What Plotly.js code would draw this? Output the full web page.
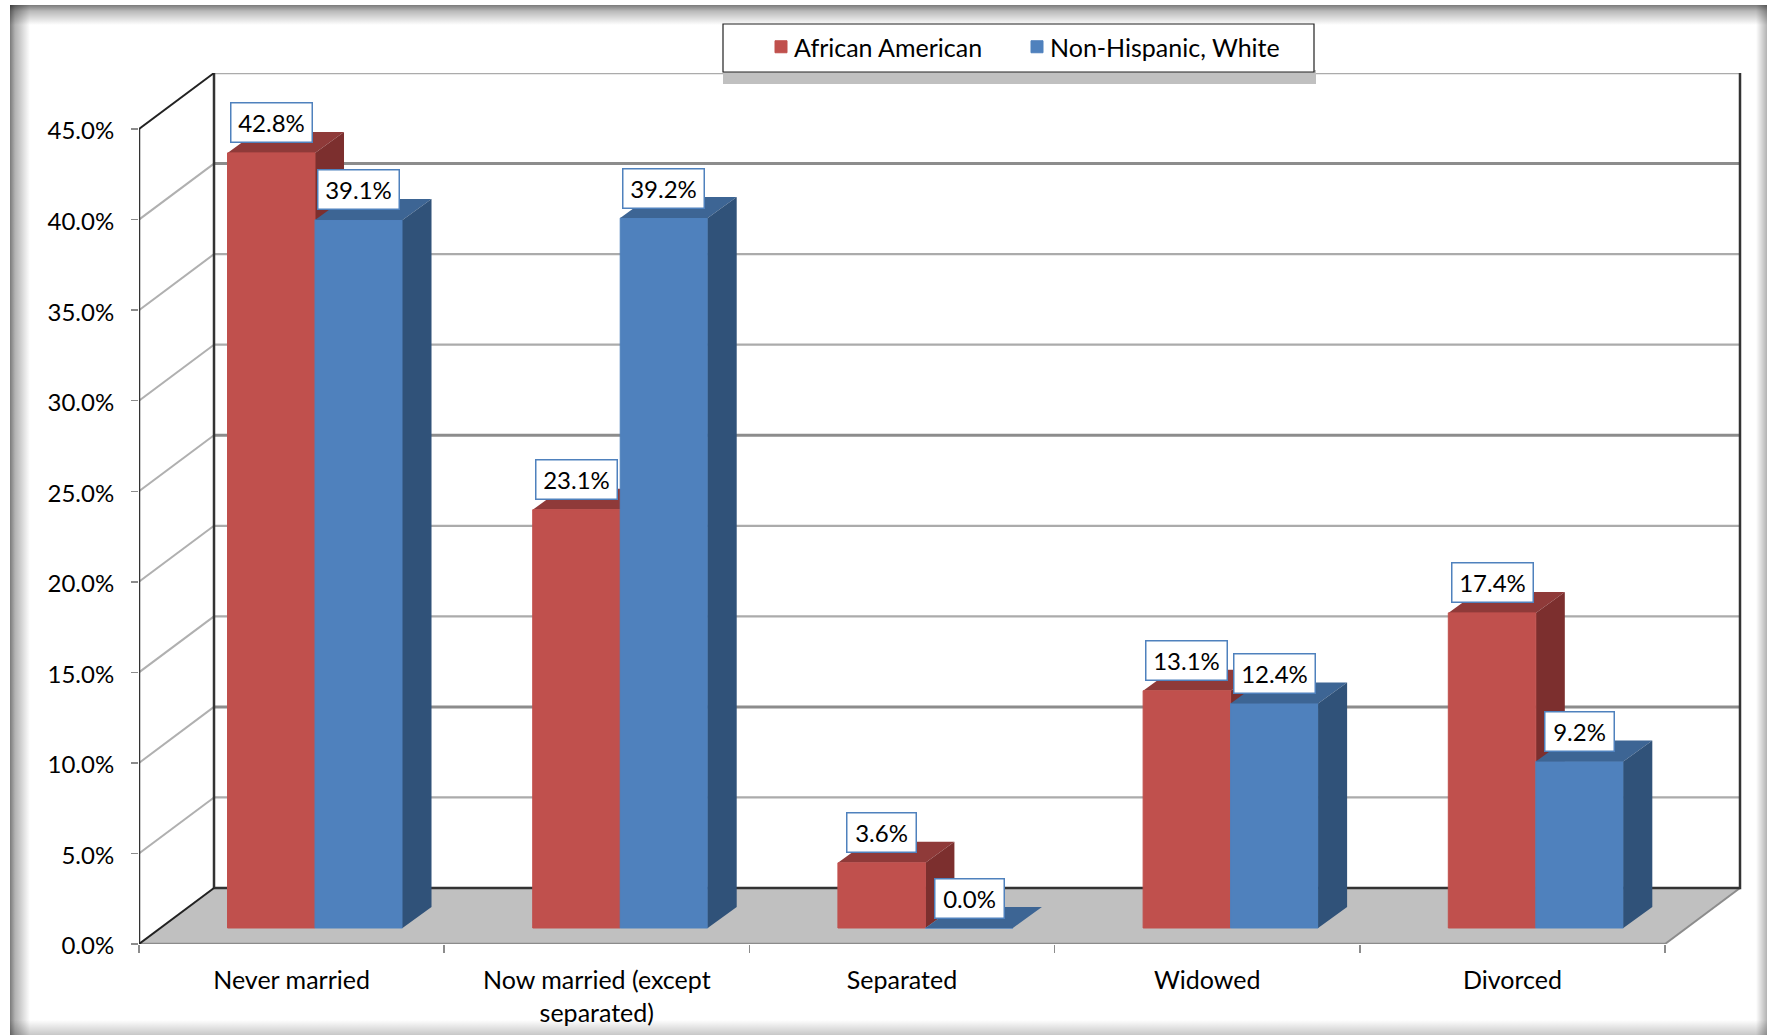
<!DOCTYPE html>
<html><head><meta charset="utf-8">
<script src="https://cdn.plot.ly/plotly-3.0.1.min.js"></script>
<style>
html,body{margin:0;padding:0;background:#fff;overflow:hidden}
#frame{position:absolute;left:10px;top:5px;width:1757px;height:1030px;background-color:#fff;
  background-image:
    linear-gradient(to right,rgba(0,0,0,.52),rgba(0,0,0,.3) 5px,rgba(0,0,0,0) 20px),
    linear-gradient(to bottom,rgba(0,0,0,.52),rgba(0,0,0,.28) 6px,rgba(0,0,0,0) 20px),
    linear-gradient(to left,rgba(0,0,0,.3),rgba(0,0,0,0) 11px),
    linear-gradient(to top,rgba(0,0,0,.22),rgba(0,0,0,0) 15px);}
#chart{position:absolute;left:0;top:0;width:1767px;height:1035px}
g.ytick{transform:translateY(2px)}
.legendtext{transform:translateX(-7px)}
.legend .scrollbox{clip-path:none !important}
</style></head><body>
<div id="frame"></div><div id="chart"></div>
<script>
const categories = ["Never married","Now married (except<br>separated)","Separated","Widowed","Divorced"];
const africanAmerican = [42.8,23.1,3.6,13.1,17.4];
const nonHispanicWhite = [39.1,39.2,0.0,12.4,9.2];
const yTicks = [0,5,10,15,20,25,30,35,40,45];
const darkerGrid = [40,25,10];

// pseudo-3D projection constants, in axis units
const pxX = 305.2, pxY = 18.11;
const L = 139, R = 1742, T = 73, B = 944;
const xMin = -0.5, xMax = xMin + (R-L)/pxX, yMax = (B-T)/pxY;
const wallDX = 75/pxX, wallDY = 56/pxY;
const floorEnd = 4.5;
const base = 16/pxY, groupOff = 0.0767, barW = 87.5/pxX, depthDX = 29/pxX, depthDY = 21/pxY;

function poly(xs, ys, color, extra){
  return Object.assign({type:'scatter',mode:'lines',x:xs,y:ys,fill:'toself',fillcolor:color,
    line:{width:0,color:color},hoverinfo:'skip',showlegend:false,cliponaxis:false},extra||{});
}
function line(xs, ys, color, width, extra){
  return Object.assign({type:'scatter',mode:'lines',x:xs,y:ys,line:{color:color,width:width},
    hoverinfo:'skip',showlegend:false,cliponaxis:false},extra||{});
}
const lipH = 4/pxY;
const traces = [];
// floor with front lip
traces.push(poly([xMin,xMin+wallDX,floorEnd+wallDX,floorEnd],[0,wallDY,wallDY,0],'#c0c0c0'));
traces.push(poly([xMin,floorEnd,floorEnd,xMin],[0,0,-lipH,-lipH],'#c4c4c4'));
// grid lines on the left wall and back wall
yTicks.filter(v=>v>0).forEach(v=>{
  const dark = darkerGrid.includes(v);
  if(v!==45) traces.push(line([xMin,xMin+wallDX],[v,v+wallDY],'#b0b0b0',2));
  traces.push(line([xMin+wallDX,floorEnd+wallDX],[v+wallDY,v+wallDY],dark?'#8c8c8c':'#ababab',dark?3:2.2));
});
// axis frame
traces.push(line([floorEnd,floorEnd+wallDX],[0,wallDY],'#8c8c8c',2));
traces.push(line([xMin,floorEnd],[0,0],'#8c8c8c',2.5));
traces.push(line([xMin+wallDX,floorEnd+wallDX,floorEnd+wallDX],[wallDY,wallDY,45+wallDY],'#333',2.5));
traces.push(line([xMin+wallDX,xMin+wallDX],[wallDY,45+wallDY],'#333',2.5));
traces.push(line([xMin,xMin],[0,45],'#333',2.5));
traces.push(line([xMin,xMin+wallDX],[0,wallDY],'#222',2));
traces.push(line([xMin,xMin+wallDX],[45,45+wallDY],'#222',2));

function faces(values, sign){
  const top={x:[],y:[]}, side={x:[],y:[]};
  values.forEach((v,i)=>{
    const c=i+groupOff, x0=sign<0?c-barW:c, x1=sign<0?c:c+barW, yt=base+v, yb=base;
    top.x.push(x0,x1,x1+depthDX,x0+depthDX,x0,null); top.y.push(yt,yt,yt+depthDY,yt+depthDY,yt,null);
    if(v>0){side.x.push(x1,x1+depthDX,x1+depthDX,x1,x1,null); side.y.push(yb,yb+depthDY,yt+depthDY,yt,yb,null);}
  });
  return {top,side};
}
const redF = faces(africanAmerican,-1), blueF = faces(nonHispanicWhite,1);
traces.push(poly(redF.top.x,redF.top.y,'#8f3a39'));
traces.push(poly(redF.side.x,redF.side.y,'#7c2f2e'));

const ax2 = {xaxis:'x2',yaxis:'y2'};
const xs = categories.map((c,i)=>i+groupOff);
traces.push({type:'bar',name:'African American',x:xs,y:africanAmerican,base:base,xaxis:'x2',yaxis:'y2',
  marker:{color:'#c0504d',line:{color:'#c0504d',width:1}},hoverinfo:'skip'});
traces.push({type:'bar',name:'Non-Hispanic, White',x:xs,y:nonHispanicWhite,base:base,xaxis:'x2',yaxis:'y2',
  marker:{color:'#4f81bd',line:{color:'#4f81bd',width:1}},hoverinfo:'skip'});
traces.push(poly(blueF.top.x,blueF.top.y,'#3d6594',ax2));
traces.push(poly(blueF.side.x,blueF.side.y,'#305279',ax2));

const font = {family:'Lato, Carlito, sans-serif',size:24,color:'#000'};
const textFont = {family:'Lato, Carlito, sans-serif',size:25,color:'#000'};
const annotations = [];
function labels(values, sign){
  values.forEach((v,i)=>annotations.push({
    x:i+groupOff+sign*barW/2, y:base+v, xref:'x2', yref:'y2', yshift:30, showarrow:false,
    text:v.toFixed(1)+'%', font:font, bgcolor:'#fff', bordercolor:'#4f81bd', borderwidth:1.5,
    borderpad:4, height:30, width:v>=10?72:60
  }));
}
labels(africanAmerican,-1); labels(nonHispanicWhite,1);

const edges = categories.map((c,i)=>i-0.5).concat([4.5]);
function py(y){return 1-(y-T)/(B-T);}
function px(x){return (x-L)/(R-L);}
const layout = {
  width:1767,height:1035,autosize:false,
  margin:{l:L,r:1767-R,t:T,b:1035-B,pad:0},
  paper_bgcolor:'rgba(0,0,0,0)',plot_bgcolor:'rgba(0,0,0,0)',
  font:font,barmode:'group',bargap:1-2*barW,bargroupgap:0,
  xaxis:{range:[xMin,xMax],tickmode:'array',tickvals:categories.map((c,i)=>i),ticktext:categories,
    showgrid:false,zeroline:false,showline:false,ticks:'',tickfont:textFont,tickangle:0,ticklabelstandoff:19,
    minor:{ticks:'outside',ticklen:8,tickwidth:1.5,tickcolor:'#8c8c8c',tickmode:'array',tickvals:edges,showgrid:false}},
  yaxis:{range:[0,yMax],tickmode:'array',tickvals:yTicks,ticktext:yTicks.map(v=>v.toFixed(1)+'%'),
    showgrid:false,zeroline:false,showline:false,ticks:'outside',ticklen:7,tickwidth:1.5,tickcolor:'#8c8c8c',
    tickfont:font,ticklabelstandoff:12},
  xaxis2:{range:[xMin,xMax],overlaying:'x',visible:false,anchor:'y2'},
  yaxis2:{range:[0,yMax],overlaying:'y',visible:false,anchor:'x2'},
  legend:{orientation:'h',x:761/1767,xanchor:'left',xref:'container',y:1-24/1035,yref:'container',yanchor:'top',
    bgcolor:'rgba(0,0,0,0)',borderwidth:0,font:textFont,entrywidth:211,traceorder:'normal'},
  shapes:[
    {type:'rect',xref:'paper',yref:'paper',layer:'above',x0:px(723),x1:px(1316),y0:py(84),y1:py(70),fillcolor:'#c0c0c0',line:{width:0}},
    {type:'rect',xref:'paper',yref:'paper',layer:'above',x0:px(723),x1:px(1314),y0:py(72),y1:py(24),fillcolor:'#fff',line:{color:'#222',width:1.2}}
  ],
  annotations:annotations
};
Plotly.newPlot('chart',traces,layout,{displayModeBar:false,staticPlot:true});
</script></body></html>
